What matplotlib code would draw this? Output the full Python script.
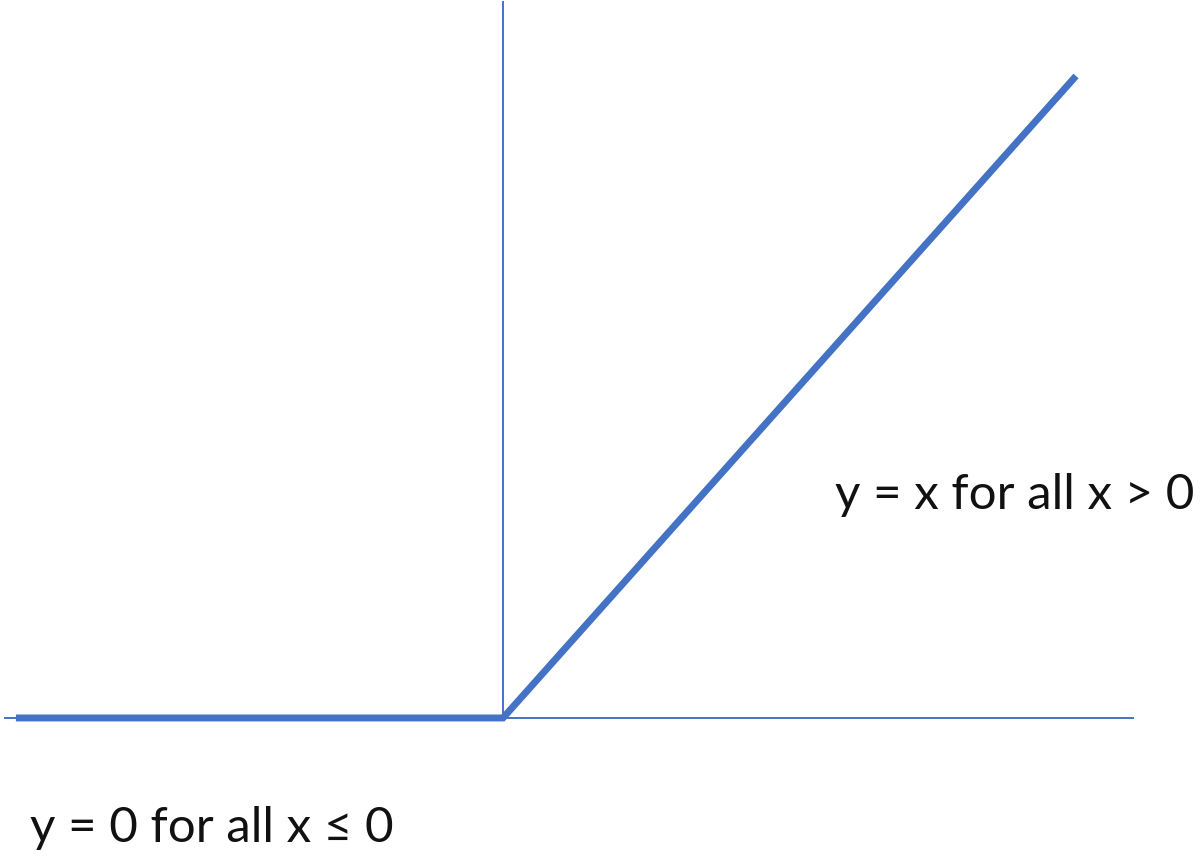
import matplotlib
matplotlib.use('Agg')
import matplotlib.pyplot as plt

# ── datos ─────────────────────────────────────────────────────────────────────
relu_x = [-8.5, 0, 10]
relu_y = [0, 0, 10]
label_pos = "y = x for all x > 0"
label_neg = "y = 0 for all x \u2264 0"

BLUE = '#4472C4'

fig = plt.figure(figsize=(12, 8.56), dpi=100)
ax = fig.add_axes([0, 0, 1, 1])
ax.set_xlim(-8.778, 12.164)
ax.set_ylim(-2.15, 11.184)
ax.axis('off')

# ejes finos
ax.plot([-8.69, 11.0], [0, 0], color=BLUE, lw=1.4, zorder=1)
ax.plot([0, 0], [0, 11.15], color=BLUE, lw=1.4, zorder=1)

# ReLU
ax.plot(relu_x, relu_y, color=BLUE, lw=5, solid_capstyle='butt',
        solid_joinstyle='miter', zorder=2)

ax.text(5.79, 3.47, label_pos, ha='left', va='center', fontsize=35.5,
        family=['Lato', 'DejaVu Sans'], color='#111111')
ax.text(-8.25, -1.71, label_neg, ha='left', va='center', fontsize=35.5,
        family=['Lato', 'DejaVu Sans'], color='#111111')

fig.savefig('out.png', dpi=100, facecolor='white')
